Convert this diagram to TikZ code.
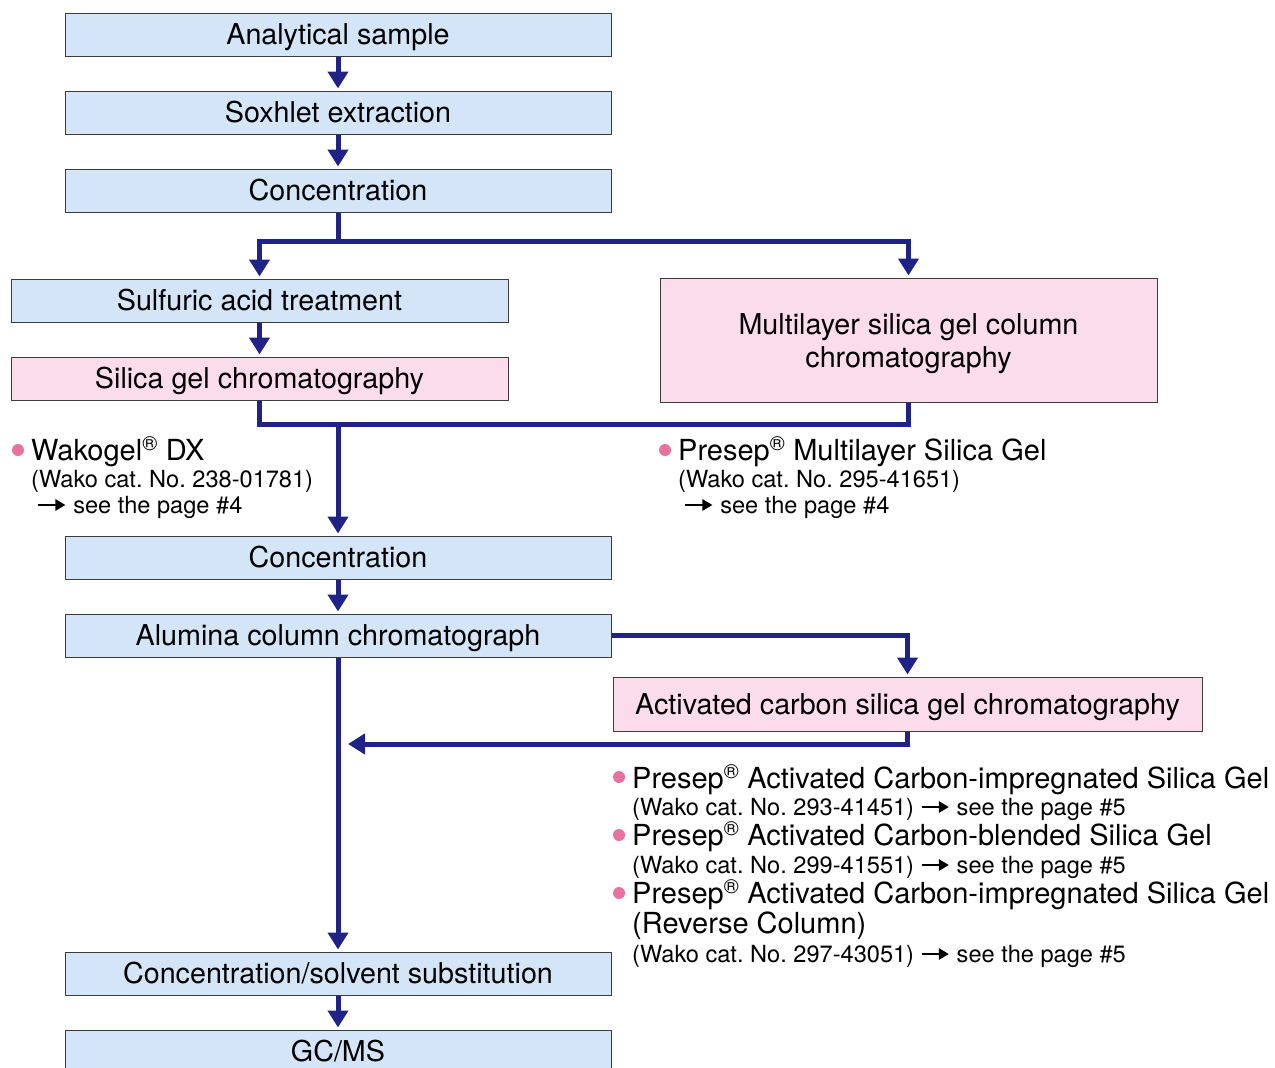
\documentclass[tikz,border=0pt]{standalone}
\usepackage{fontspec}
\setmainfont{TeX Gyre Heros}
\usetikzlibrary{arrows.meta}
\definecolor{boxblue}{RGB}{211,229,246}
\definecolor{boxpink}{RGB}{250,220,234}
\definecolor{flow}{RGB}{31,35,133}
\definecolor{bulletpink}{RGB}{232,113,160}
\definecolor{edge}{RGB}{60,60,60}
\frenchspacing
\tikzset{
 frame/.style={draw=edge, line width=1pt, inner sep=0pt, font=\fontsize{28.7}{33}\selectfont},
 oneline/.style={text height=20.5pt, text depth=0pt},
 bluebox/.style={frame, oneline, fill=boxblue},
 pinkbox/.style={frame, fill=boxpink},
 wide/.style={minimum width=546pt, minimum height=43pt},
 half/.style={minimum width=497pt, minimum height=43pt},
 flowline/.style={draw=flow, line width=5pt, line join=miter},
 flowarrow/.style={flowline, -{Triangle[width=20pt,length=17pt]}, shorten >=2pt},
 head/.style={anchor=base west, inner sep=0pt, font=\fontsize{29}{33}\selectfont},
 small/.style={anchor=base west, inner sep=0pt, font=\fontsize{23.6}{28}\selectfont},
 dot/.style={circle, fill=bulletpink, minimum size=12pt, inner sep=0pt},
}
\newcommand\seearrow{\tikz[baseline=-8pt]\draw[black, line width=2.5pt, -{Triangle[width=11pt,length=10pt]}] (0pt,0pt)--(27pt,0pt);}
\begin{document}
\begin{tikzpicture}[x=1pt, y=-1pt]
\useasboundingbox (0,0) rectangle (1275,1068);
% boxes
\node[bluebox, wide] (s1) at (338,34.5) {Analytical sample};
\node[bluebox, wide] (s2) at (338,112.5) {Soxhlet extraction};
\node[bluebox, wide] (s3) at (338,190.5) {Concentration};
\node[bluebox, half] (s4) at (259.5,300.5) {Sulfuric acid treatment};
\node[pinkbox, oneline, half] (s5) at (259.5,378.5) {Silica gel chromatography};
\node[pinkbox, minimum width=497pt, minimum height=124pt] (s6) at (908.5,340) {};
\node[font=\fontsize{28.7}{33}\selectfont, align=center, inner sep=0pt, yshift=-4pt] (s6t) at (s6.center) {Multilayer silica gel column\\chromatography};
\node[bluebox, wide] (s7) at (338,557.5) {Concentration};
\node[bluebox, wide] (s8) at (338,635.5) {Alumina column chromatograph};
\node[pinkbox, oneline, minimum width=589pt, minimum height=54pt] (s9) at (907.5,704) {Activated carbon silica gel chromatography};
\node[bluebox, wide] (s10) at (338,973.5) {Concentration/solvent substitution};
\node[bluebox, wide] (s11) at (338,1051.5) {GC/MS};
% connectors
\coordinate (j1) at (338,241);
\coordinate (j2) at (338,424);
\coordinate (ret) at (348,744);
\draw[flowarrow] (s1) -- (s2);
\draw[flowarrow] (s2) -- (s3);
\draw[flowline] (s3.south) -- (j1);
\draw[flowarrow] (j1) -| (s4.north);
\draw[flowarrow] (j1) -| (s6.north);
\draw[flowarrow] (s4) -- (s5);
\draw[flowline] (s5.south) -- ++(0,24) -| (s6.south);
\draw[flowarrow] (j2) -- (s7);
\draw[flowarrow] (s7) -- (s8);
\draw[flowarrow] (s8.east) -| (s9.north);
\draw[flowarrow, shorten >=0pt] (s9.south) |- (ret);
\draw[flowarrow] (s8) -- (s10);
\draw[flowarrow] (s10) -- (s11);
% annotations left
\node[dot] (b1) at (18,450) {};
\node[head] (t1) at (31,460) {Wakogel\textsuperscript{®} DX};
\node[small] (t2) at (31,487) {(Wako cat. No. 238-01781)};
\node[small] (t3) at (37,513) {\seearrow\ see the page \#4};
% annotations right
\node[dot] (b2) at (665,450) {};
\node[head] (u1) at (678,460) {Presep\textsuperscript{®} Multilayer Silica Gel};
\node[small] (u2) at (678,487) {(Wako cat. No. 295-41651)};
\node[small] (u3) at (684,513) {\seearrow\ see the page \#4};
% activated carbon list
\node[dot] (b3) at (619,777) {};
\node[head] (v1) at (632,788) {Presep\textsuperscript{®} Activated Carbon-impregnated Silica Gel};
\node[small] (v2) at (632,815) {(Wako cat. No. 293-41451) \seearrow\ see the page \#5};
\node[dot] (b4) at (619,835) {};
\node[head] (v3) at (632,845) {Presep\textsuperscript{®} Activated Carbon-blended Silica Gel};
\node[small] (v4) at (632,873) {(Wako cat. No. 299-41551) \seearrow\ see the page \#5};
\node[dot] (b5) at (619,893) {};
\node[head] (v5) at (632,903) {Presep\textsuperscript{®} Activated Carbon-impregnated Silica Gel};
\node[head] (v6) at (632,933) {(Reverse Column)};
\node[small] (v7) at (632,962) {(Wako cat. No. 297-43051) \seearrow\ see the page \#5};
\end{tikzpicture}
\end{document}
